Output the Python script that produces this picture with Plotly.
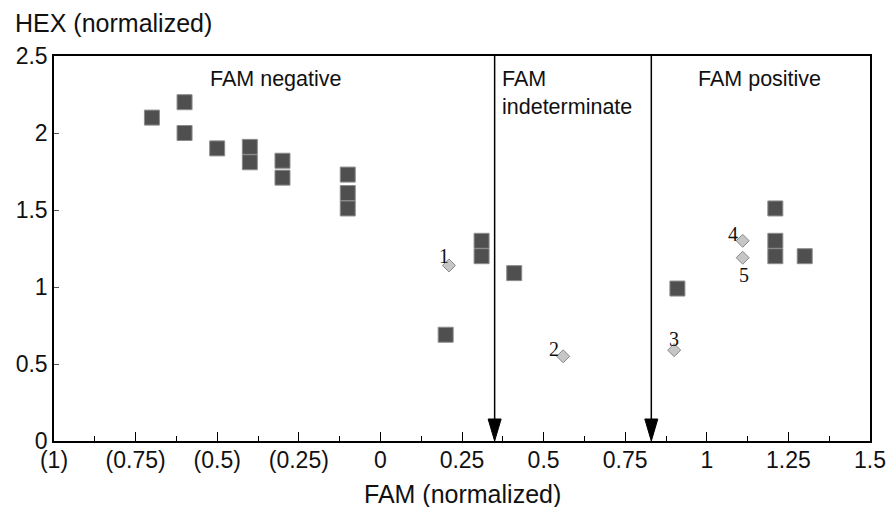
import plotly.graph_objects as go

# ---- data ----
square_x = [-0.7, -0.6, -0.6, -0.5, -0.4, -0.4, -0.3, -0.3, -0.1, -0.1, -0.1,
            0.2, 0.31, 0.31, 0.41, 0.91, 1.21, 1.21, 1.21, 1.3]
square_y = [2.1, 2.2, 2.0, 1.9, 1.91, 1.81, 1.82, 1.71, 1.73, 1.61, 1.51,
            0.69, 1.3, 1.2, 1.09, 0.99, 1.51, 1.3, 1.2, 1.2]

diamond_x = [0.21, 0.56, 0.9, 1.11, 1.11]
diamond_y = [1.14, 0.55, 0.59, 1.3, 1.19]
diamond_labels = ["1", "2", "3", "4", "5"]

thresholds = [0.35, 0.83]

x_tickvals = [-1, -0.75, -0.5, -0.25, 0, 0.25, 0.5, 0.75, 1, 1.25, 1.5]
x_ticktext = ["(1)", "(0.75)", "(0.5)", "(0.25)", "0", "0.25", "0.5", "0.75", "1", "1.25", "1.5"]
y_tickvals = [0, 0.5, 1, 1.5, 2, 2.5]
y_ticktext = ["0", "0.5", "1", "1.5", "2", "2.5"]

x_range = [-1, 1.5]
y_range = [0, 2.5]

# ---- style / layout (figure pixels) ----
W, H = 888, 507
ML, MR, MT, MB = 54, 18, 56, 66
PW, PH = W - ML - MR, H - MT - MB
label_shift = [(-5, 9), (-9, 7), (0, 11), (-10, 7), (1, -17)]
SANS = "Liberation Sans, Arial, sans-serif"
SERIF = "Liberation Serif, Times New Roman, serif"

fig = go.Figure()

fig.add_trace(go.Scatter(
    x=square_x, y=square_y, mode="markers",
    marker=dict(symbol="square", size=15, color="#4f4f4f",
                line=dict(color="#8c8c8c", width=1)),
    showlegend=False, hoverinfo="x+y"))

fig.add_trace(go.Scatter(
    x=diamond_x, y=diamond_y, mode="markers",
    marker=dict(symbol="diamond", size=10, color="#c6c6c6",
                line=dict(color="#8a8a8a", width=1)),
    showlegend=False, hoverinfo="x+y"))

for xv, yv, lab, (dx, dy) in zip(diamond_x, diamond_y, diamond_labels, label_shift):
    fig.add_annotation(x=xv, y=yv, text=lab, showarrow=False,
                       xshift=dx, yshift=dy,
                       font=dict(family=SERIF, size=20, color="#111"))

# threshold lines with arrowheads
px_per_x = PW / (x_range[1] - x_range[0])
px_per_y = PH / (y_range[1] - y_range[0])
head_dx = 6.5 / px_per_x
head_dy = 22 / px_per_y
for t in thresholds:
    fig.add_shape(type="line", x0=t, x1=t, y0=y_range[1], y1=head_dy * 0.5,
                  xref="x", yref="y", line=dict(color="black", width=1.5))
    fig.add_shape(type="path",
                  path=f"M {t - head_dx},{head_dy} L {t + head_dx},{head_dy} L {t},{y_range[0]} Z",
                  xref="x", yref="y", fillcolor="black", line=dict(color="black", width=1))

# region labels
fig.add_annotation(x=-0.32, y=2.35, text="FAM negative", showarrow=False,
                   xanchor="center", yanchor="middle",
                   font=dict(family=SANS, size=21.5, color="#111"))
fig.add_annotation(x=0.365, y=2.26, text="FAM<br>indeterminate", showarrow=False,
                   xanchor="left", yanchor="middle", align="left",
                   font=dict(family=SANS, size=21.5, color="#111"))
fig.add_annotation(x=1.16, y=2.35, text="FAM positive", showarrow=False,
                   xanchor="center", yanchor="middle",
                   font=dict(family=SANS, size=21.5, color="#111"))

# axis titles (placed by pixel position within the figure)
fig.add_annotation(x=(13 - ML) / PW, y=(MT + PH - 23) / PH, xref="paper", yref="paper",
                   text="HEX (normalized)", showarrow=False,
                   xanchor="left", yanchor="middle",
                   font=dict(family=SANS, size=25, color="#111"))
fig.add_annotation(x=0.5, y=(MT + PH - 494) / PH, xref="paper", yref="paper",
                   text="FAM (normalized)", showarrow=False,
                   xanchor="center", yanchor="middle",
                   font=dict(family=SANS, size=25, color="#111"))

fig.update_xaxes(range=x_range, tickvals=x_tickvals, ticktext=x_ticktext,
                 ticks="inside", ticklen=9, tickwidth=1, tickcolor="black",
                 minor=dict(ticks="inside", ticklen=5, dtick=0.125, tickcolor="black", tickwidth=1),
                 showline=True, linecolor="black", linewidth=1.5, mirror=True,
                 showgrid=False, zeroline=False,
                 tickfont=dict(family=SANS, size=23, color="#111"),
                 ticklabelstandoff=-2)
fig.update_yaxes(range=y_range, tickvals=y_tickvals, ticktext=y_ticktext,
                 ticks="inside", ticklen=5, tickwidth=1, tickcolor="#555",
                 showline=True, linecolor="black", linewidth=1.5, mirror=True,
                 showgrid=False, zeroline=False,
                 tickfont=dict(family=SANS, size=23, color="#111"),
                 ticklabelstandoff=0)

fig.update_layout(width=W, height=H,
                  margin=dict(l=ML, r=MR, t=MT, b=MB, autoexpand=False),
                  plot_bgcolor="white", paper_bgcolor="white",
                  showlegend=False)

# remove the page's default body margin so the figure fills the window exactly
fig.write_html("out.html",
               config={"displayModeBar": False},
               post_script="document.body.style.margin='0';document.body.style.overflow='hidden';")
